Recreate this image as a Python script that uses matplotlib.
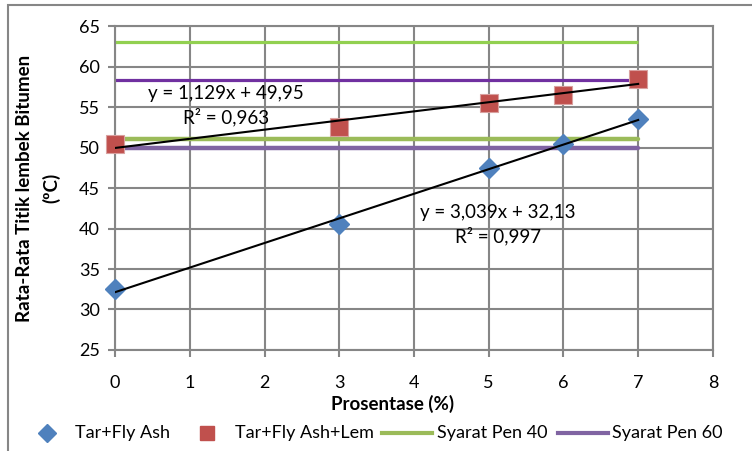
import numpy as np
import matplotlib.pyplot as plt
from matplotlib.patches import Rectangle

plt.rcParams['font.family'] = ['Lato', 'DejaVu Sans']

# data
persen = [0, 3, 5, 6, 7]
fly_ash = [32.5, 40.5, 47.5, 50.5, 53.5]
fly_ash_lem = [50.5, 52.5, 55.5, 56.5, 58.5]
pen40_x = [0, 7]
pen40_atas = [63, 63]
pen40_bawah = [51, 51]
pen60_atas = [58.4, 58.4]
pen60_bawah = [50, 50]

fig = plt.figure(figsize=(7.52, 4.51), dpi=100)
ax = fig.add_axes([0.153, 0.224, 0.795, 0.718])

grid_c = '#868686'
ax.set_xlim(0, 8)
ax.set_ylim(25, 65)
ax.set_xticks(range(0, 9))
ax.set_yticks(range(25, 70, 5))
ax.grid(True, color=grid_c, linewidth=1.5)
ax.set_axisbelow(True)
for s in ax.spines.values():
    s.set_color(grid_c)
    s.set_linewidth(1.5)
ax.tick_params(axis='both', colors=grid_c, width=1.5, length=5, labelsize=13, labelcolor='black')
ax.tick_params(axis='x', pad=13)
ax.tick_params(axis='y', pad=6)

# syarat lines
ax.plot(pen40_x, pen40_atas, color='#92D050', lw=2.3, solid_capstyle='butt', zorder=2)
ax.plot(pen40_x, pen40_bawah, color='#9BBB59', lw=3.2, solid_capstyle='round', zorder=2)
ax.plot(pen40_x, pen60_atas, color='#7030A0', lw=2.3, solid_capstyle='butt', zorder=2)
ax.plot(pen40_x, pen60_bawah, color='#8064A2', lw=3.2, solid_capstyle='round', zorder=2)

# data points
ax.plot(persen, fly_ash, 'D', color='#4F81BD', ms=10.5, mec='#4F81BD', zorder=3, clip_on=False)
ax.plot(persen, fly_ash_lem, 's', color='#C0504D', ms=13, mec='#D9A09F', mew=0.8, zorder=3,
        clip_on=False)

# trendlines
xx = np.array([0, 7])
for ys in (fly_ash, fly_ash_lem):
    m, c = np.polyfit(persen, ys, 1)
    ax.plot(xx, m * xx + c, color='black', lw=1.5, zorder=4)

ax.text(1.48, 56.7, 'y = 1,129x + 49,95', fontsize=13.5, ha='center', va='center')
ax.text(1.49, 53.8, 'R² = 0,963', fontsize=13.5, ha='center', va='center')
ax.text(5.12, 42.0, 'y = 3,039x + 32,13', fontsize=13.5, ha='center', va='center')
ax.text(5.12, 39.1, 'R² = 0,997', fontsize=13.5, ha='center', va='center')

fig.text(393 / 752, 1 - 404 / 451, 'Prosentase (%)', fontsize=13.5, fontweight='bold',
         ha='center', va='center')
fig.text(38 / 752, 1 - 188 / 451, 'Rata-Rata Titik lembek Bitumen\n(ºC)', fontsize=13.5,
         fontweight='bold', ha='center', va='center', rotation=90, linespacing=1.65)

# legend
ly = 1 - 433 / 451
fig.lines.append(plt.Line2D([47 / 752], [ly], marker='D', color='#4F81BD', ms=9,
                            transform=fig.transFigure))
fig.text(75 / 752, ly, 'Tar+Fly Ash', fontsize=13, va='center')
fig.lines.append(plt.Line2D([207 / 752], [ly], marker='s', color='#C0504D', ms=10,
                            transform=fig.transFigure))
fig.text(235 / 752, ly, 'Tar+Fly Ash+Lem', fontsize=13, va='center')
fig.lines.append(plt.Line2D([382 / 752, 432 / 752], [ly, ly], color='#9BBB59', lw=3,
                            transform=fig.transFigure))
fig.text(437 / 752, ly, 'Syarat Pen 40', fontsize=13, va='center')
fig.lines.append(plt.Line2D([558 / 752, 608 / 752], [ly, ly], color='#8064A2', lw=3,
                            transform=fig.transFigure))
fig.text(612 / 752, ly, 'Syarat Pen 60', fontsize=13, va='center')

# outer chart frame (cropped)
fig.patches.append(Rectangle((8 / 752, -0.1), 1.2, 1 - 5 / 451 + 0.1, fill=False,
                             ec='#868686', lw=1.5, transform=fig.transFigure))

fig.savefig('out.png', dpi=100)
